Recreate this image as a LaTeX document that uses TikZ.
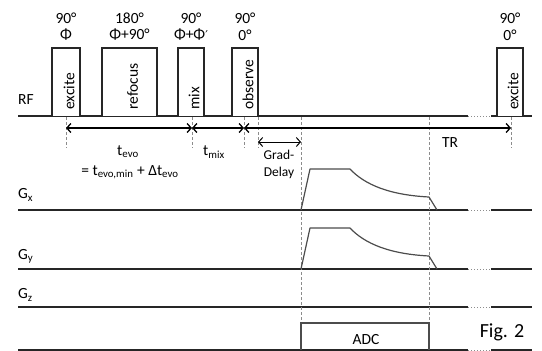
\documentclass[tikz,border=0pt]{standalone}
\usepackage{fontspec}
\setmainfont{Carlito}
\newfontfamily\symfont{DejaVu Sans}
\usetikzlibrary{arrows.meta}

\begin{document}
\begin{tikzpicture}[x=1pt, y=-1pt,
  every node/.style={inner sep=0, font=\fontsize{15.5}{17}\selectfont},
  base/.style={line width=1.5pt, draw=black!85},
  gap/.style={line width=1pt, draw=black!45, dotted},
  tick/.style={line width=0.9pt, draw=black!45, dash pattern=on 3pt off 2pt},
  lobe/.style={line width=1.2pt, draw=black!70, line join=round},
  dim/.style={line width=1.3pt, arrows={Straight Barb[length=4pt, width=9pt]-Straight Barb[length=4pt, width=9pt]}}]

  \useasboundingbox (0,0) rectangle (542,351);

  % channel lines
  \foreach \y in {116,210,269,307,350} {
    \draw[base] (18,\y) -- (468,\y);
    \draw[gap] (468,\y) -- (491,\y);
    \draw[base] (491,\y) -- (532,\y);
  }
  \node[anchor=west] (rf) at (18,100) {RF};
  \node[anchor=west] (gx) at (18,195) {G\textsubscript{x}};
  \node[anchor=west] (gy) at (18,256) {G\textsubscript{y}};
  \node[anchor=west] (gz) at (18,295) {G\textsubscript{z}};

  % RF pulses
  \foreach \l/\r/\txt/\flip/\phase [count=\i] in {52/80/excite/90°/Φ, 102/157/refocus/180°/Φ+90°,
      178/204/mix/90°/Φ+Φ{\symfont\fontsize{12}{14}\selectfont′}, 232/258/observe/90°/0°, 497/523/excite/90°/0°} {
    \draw[base, fill=white] (\l,116) -- (\l,48) -- (\r,48) -- (\r,116);
    \node[rotate=90, anchor=west] (p\i) at ({(\l+\r)/2+3},110) {\txt};
    \node (f\i) at ({(\l+\r)/2},18) {\flip};
    \node (ph\i) at ({(\l+\r)/2},35) {\phase};
  }

  % timing marks
  \foreach \x in {66,192,244,258,511}
    \draw[tick] (\x,117) -- (\x,148);
  \foreach \x in {301,429}
    \draw[tick] (\x,117) -- (\x,351);

  \coordinate (exc) at (66,128);
  \coordinate (mix) at (192,128);
  \coordinate (obs) at (244,128);
  \coordinate (nxt) at (511,128);
  \coordinate (gd1) at (258,142);
  \coordinate (gd2) at (301,142);

  \draw[dim] (exc) -- (mix);
  \draw[dim] (mix) -- (obs);
  \draw[dim] (obs) -- (nxt);
  \draw[dim, line width=1pt] (gd1) -- (gd2);

  \node (tevo) at (128,152) {t\textsubscript{evo}};
  \node (tsum) at (130,172) {= t\textsubscript{evo,min} + Δt\textsubscript{evo}};
  \node (tmix) at (214,152) {t\textsubscript{mix}};
  \node (tr) at (450,143) {TR};
  \node[font=\fontsize{13.5}{17}\selectfont, align=center] (gdel) at (279,164) {Grad-\\Delay};

  % readout gradients
  \foreach \dy in {0,59}
    \draw[lobe] (301,210+\dy) -- (310,169+\dy) -- (350,169+\dy)
      .. controls (365,185+\dy) and (390,195+\dy) .. (429,197+\dy) -- (437,210+\dy);

  % ADC window
  \draw[line width=1.2pt, draw=black!70] (301,350) -- (301,323) -- (429,323) -- (429,350);
  \node (adc) at (366,340) {ADC};
  \node[font=\fontsize{20}{24}\selectfont] (fig) at (502,332) {Fig. 2};
\end{tikzpicture}
\end{document}
